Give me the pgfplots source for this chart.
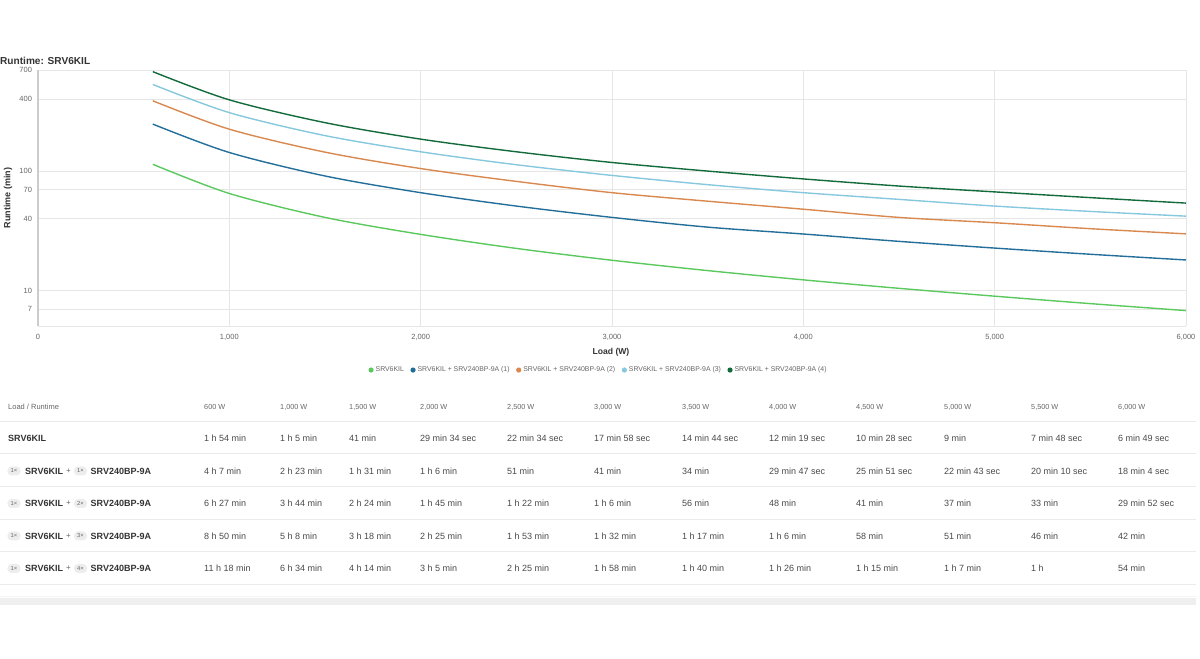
\documentclass[border=0pt]{standalone}
\usepackage{fontspec}
\setmainfont{Liberation Sans}
\usepackage{pgfplots}
\pgfplotsset{compat=1.18}
\definecolor{cA}{HTML}{5CC95F}
\definecolor{cB}{HTML}{236F9A}
\definecolor{cC}{HTML}{D9894F}
\definecolor{cD}{HTML}{86C8DD}
\definecolor{cE}{HTML}{136B3B}
\definecolor{gridc}{HTML}{E6E6E6}
\definecolor{axc}{HTML}{CCCCCC}
\definecolor{tickc}{HTML}{666666}
\definecolor{cellc}{HTML}{4A4A4A}
\definecolor{labc}{HTML}{333333}
\definecolor{badge}{HTML}{EDEDED}
\definecolor{sepc}{HTML}{EAEAEA}
\definecolor{bandc}{HTML}{EFEFEF}
\definecolor{band2}{HTML}{F4F4F4}
\newcommand\fs[1]{\fontsize{#1bp}{#1bp}\selectfont}
\begin{document}
\begin{tikzpicture}
\useasboundingbox (0,0) rectangle (1200bp,659bp);
\fill[white] (0,0) rectangle (1200bp,659bp);
\begin{axis}[
  at={(38bp,333bp)}, anchor=south west,
  scale only axis, width=1148bp, height=256bp,
  xmin=0, xmax=6000, ymode=log, ymin=5.07, ymax=700,
  axis lines=left, axis line style={-},
  x axis line style={draw=gridc, line width=0.8bp},
  y axis line style={draw=axc, line width=1.6bp},
  xtick={0,1000,2000,3000,4000,5000,6000},
  xticklabels={0,{1,000},{2,000},{3,000},{4,000},{5,000},{6,000}},
  ytick={7,10,40,70,100,400,700},
  yticklabels={7,10,40,70,100,400,700},
  minor ytick={}, log basis y=10,
  xmajorgrids, ymajorgrids, grid style={draw=gridc, line width=0.8bp},
  major tick length=0pt,
  /pgf/number format/assume math mode=true,
  tick label style={font=\fs{7.5}, text=tickc},
  xticklabel style={yshift=-5bp},
  yticklabel style={xshift=-2.5bp},
  xlabel={Load (W)}, ylabel={Runtime (min)},
  xlabel style={at={(axis description cs:0.4991,-0.1016)}, anchor=center, font=\bfseries\fs{8.6}, text=labc},
  ylabel style={at={(axis description cs:-0.0261,0.5)}, anchor=center, rotate=0, font=\bfseries\fs{9}, text=labc},
  legend columns=5,
  legend style={at={(axis description cs:0.4883,-0.172)}, anchor=center, draw=none, fill=none,
    font=\fs{6.9}, text=tickc, inner sep=0pt,
    /tikz/every even column/.append style={column sep=4.5bp}},
  legend image code/.code={\fill[#1, draw=none] (0bp,0bp) circle (2.6bp);},
  every axis plot/.append style={line width=1.4bp, smooth},
  clip=false,
]
\addplot[cA] coordinates {(600,114) (1000,65) (1500,41) (2000,29.57) (2500,22.57) (3000,17.97) (3500,14.73) (4000,12.32) (4500,10.47) (5000,9) (5500,7.8) (6000,6.82)};
\addlegendentry{SRV6KIL}
\addplot[cB] coordinates {(600,247) (1000,143) (1500,91) (2000,66) (2500,51) (3000,41) (3500,34) (4000,29.78) (4500,25.85) (5000,22.72) (5500,20.17) (6000,18.07)};
\addlegendentry{SRV6KIL + SRV240BP-9A (1)}
\addplot[cC] coordinates {(600,387) (1000,224) (1500,144) (2000,105) (2500,82) (3000,66) (3500,56) (4000,48) (4500,41) (5000,37) (5500,33) (6000,29.87)};
\addlegendentry{SRV6KIL + SRV240BP-9A (2)}
\addplot[cD] coordinates {(600,530) (1000,308) (1500,198) (2000,145) (2500,113) (3000,92) (3500,77) (4000,66) (4500,58) (5000,51) (5500,46) (6000,42)};
\addlegendentry{SRV6KIL + SRV240BP-9A (3)}
\addplot[cE] coordinates {(600,678) (1000,394) (1500,254) (2000,185) (2500,145) (3000,118) (3500,100) (4000,86) (4500,75) (5000,67) (5500,60) (6000,54)};
\addlegendentry{SRV6KIL + SRV240BP-9A (4)}
\end{axis}
\begin{scope}[x=1bp, y=-1bp, yshift=659bp]
  \node[anchor=west, inner sep=0pt, font=\bfseries\fs{10.1}, text=labc] at (0,60.5) {Runtime: SRV6KIL};
  % table separators
  \foreach \yy in {421.5,454,487,519.5,552,584.5} {\draw[sepc, line width=1bp] (0,\yy) -- (1196,\yy);}
  \fill[bandc] (0,598) rectangle (1196,605);
  \draw[band2, line width=0.8bp] (0,596.5) -- (1196,596.5);
  % header
  \node[anchor=west, inner sep=0pt, font=\fs{7.5}, text=tickc] at (8,407) {Load / Runtime};
  \foreach \xx/\tt in {204/600 W,280/{1,000 W},349/{1,500 W},420/{2,000 W},507/{2,500 W},594/{3,000 W},682/{3,500 W},769/{4,000 W},856/{4,500 W},944/{5,000 W},1031/{5,500 W},1118/{6,000 W}}
    {\node[anchor=west, inner sep=0pt, font=\fs{7.3}, text=tickc] at (\xx,407) {\tt};}
  % row labels
  \node[anchor=west, inner sep=0pt, font=\bfseries\fs{9}, text=labc] at (8,438) {SRV6KIL};
  \foreach \yy/\nn in {471/1,503.5/2,536/3,568.5/4} {
    \node[fill=badge, rounded corners=4bp, minimum width=13bp, minimum height=9bp, inner sep=0pt, font=\fs{5.8}, text=tickc] at (14,\yy) {1×};
    \node[anchor=west, inner sep=0pt, font=\bfseries\fs{9}, text=labc] at (25,\yy) {SRV6KIL};
    \node[inner sep=0pt, font=\fs{8}, text=tickc] at (68.5,\yy) {+};
    \node[fill=badge, rounded corners=4bp, minimum width=13bp, minimum height=9bp, inner sep=0pt, font=\fs{5.8}, text=tickc] at (80.5,\yy) {\nn×};
    \node[anchor=west, inner sep=0pt, font=\bfseries\fs{9}, text=labc] at (90.5,\yy) {SRV240BP-9A};
  }
  \tikzset{cellt/.style={anchor=west, inner sep=0pt, font=\fs{9}, text=cellc}}
  \foreach \xx/\tt in {204/1 h 54 min,280/1 h 5 min,349/41 min,420/29 min 34 sec,507/22 min 34 sec,594/17 min 58 sec,682/14 min 44 sec,769/12 min 19 sec,856/10 min 28 sec,944/9 min,1031/7 min 48 sec,1118/6 min 49 sec}
    {\node[cellt] at (\xx,438) {\tt};}
  \foreach \xx/\tt in {204/4 h 7 min,280/2 h 23 min,349/1 h 31 min,420/1 h 6 min,507/51 min,594/41 min,682/34 min,769/29 min 47 sec,856/25 min 51 sec,944/22 min 43 sec,1031/20 min 10 sec,1118/18 min 4 sec}
    {\node[cellt] at (\xx,471) {\tt};}
  \foreach \xx/\tt in {204/6 h 27 min,280/3 h 44 min,349/2 h 24 min,420/1 h 45 min,507/1 h 22 min,594/1 h 6 min,682/56 min,769/48 min,856/41 min,944/37 min,1031/33 min,1118/29 min 52 sec}
    {\node[cellt] at (\xx,503.5) {\tt};}
  \foreach \xx/\tt in {204/8 h 50 min,280/5 h 8 min,349/3 h 18 min,420/2 h 25 min,507/1 h 53 min,594/1 h 32 min,682/1 h 17 min,769/1 h 6 min,856/58 min,944/51 min,1031/46 min,1118/42 min}
    {\node[cellt] at (\xx,536) {\tt};}
  \foreach \xx/\tt in {204/11 h 18 min,280/6 h 34 min,349/4 h 14 min,420/3 h 5 min,507/2 h 25 min,594/1 h 58 min,682/1 h 40 min,769/1 h 26 min,856/1 h 15 min,944/1 h 7 min,1031/1 h,1118/54 min}
    {\node[cellt] at (\xx,568.5) {\tt};}
\end{scope}
\end{tikzpicture}
\end{document}
